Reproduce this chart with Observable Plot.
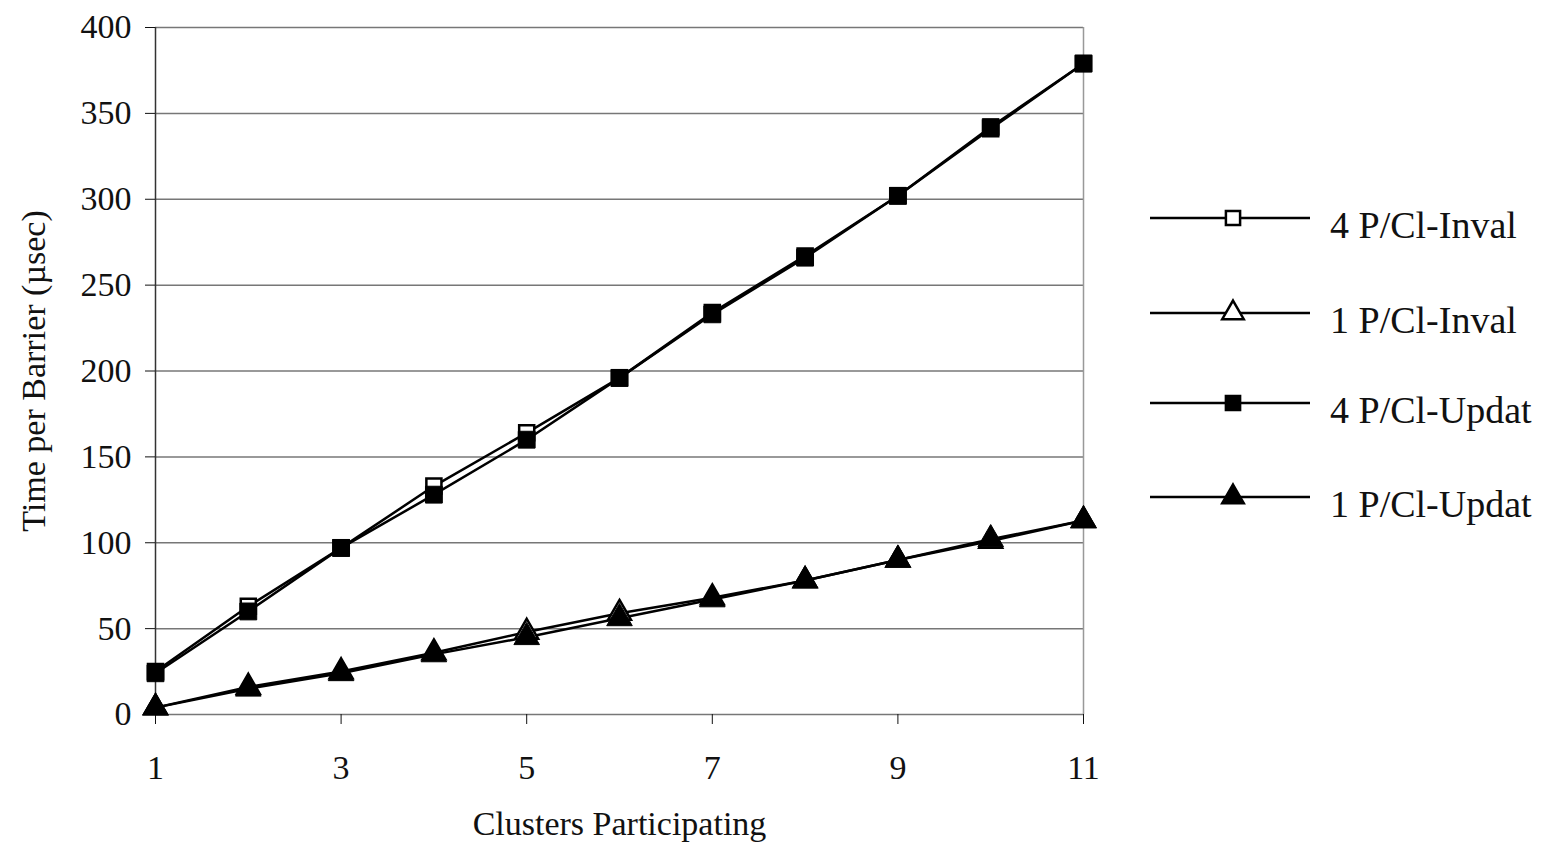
<!DOCTYPE html>
<html>
<head>
<meta charset="utf-8">
<script src="https://cdn.jsdelivr.net/npm/d3@7"></script>
<script src="https://cdn.jsdelivr.net/npm/@observablehq/plot@0.6"></script>
<style>
  html, body { margin: 0; padding: 0; background: #fff; }
  #wrap { position: relative; width: 1559px; height: 855px; font-family: "Liberation Serif", "DejaVu Serif", serif; }
  #legend { position: absolute; left: 1150px; top: 0; }
  .item { position: absolute; left: 0; width: 420px; height: 50px; }
  .item svg { position: absolute; left: 0; top: 0; }
  .item span { position: absolute; left: 180px; top: 10px; font-size: 38px; color: #111; white-space: nowrap; }
</style>
</head>
<body>
<div id="wrap">
  <div id="chart"></div>
  <div id="legend"></div>
</div>
<script>
const clusters = [1, 2, 3, 4, 5, 6, 7, 8, 9, 10, 11];
const inval4 = [25, 63, 97, 133, 164, 196, 234, 267, 302, 341, 379];
const inval1 = [4, 16, 25, 36, 48, 59, 68, 78, 90, 101, 113];
const updat4 = [24, 60, 97, 128, 160, 196, 233, 266, 302, 342, 379];
const updat1 = [4, 15, 24, 35, 45, 56, 67, 78, 90, 102, 113];
const seriesNames = ["4 P/Cl-Inval", "1 P/Cl-Inval", "4 P/Cl-Updat", "1 P/Cl-Updat"];
const xTicks = [1, 3, 5, 7, 9, 11];
const yTicks = [0, 50, 100, 150, 200, 250, 300, 350, 400];

const seriesValues = [inval4, inval1, updat4, updat1];
const symbols = ["square", "triangle", "square", "triangle"];
const fills = ["white", "white", "black", "black"];
const rows = [];
seriesNames.forEach((name, i) => {
  clusters.forEach((c, j) => rows.push({series: name, x: c, y: seriesValues[i][j], symbol: symbols[i], fill: fills[i]}));
});
const openRows = rows.filter(d => d.fill === "white");
const filledRows = rows.filter(d => d.fill === "black");

const chart = Plot.plot({
  width: 1559,
  height: 855,
  marginLeft: 155,
  marginRight: 476,
  marginTop: 27,
  marginBottom: 141,
  style: {fontFamily: "Liberation Serif, DejaVu Serif, serif", fontSize: "34px", color: "#111", background: "white"},
  x: {domain: [1, 11]},
  y: {domain: [0, 400]},
  marks: [
    Plot.ruleY(yTicks, {stroke: "#777", strokeWidth: 1.5}),
    Plot.ruleX([11], {stroke: "#999", strokeWidth: 1.5}),
    Plot.ruleX([1], {stroke: "#333", strokeWidth: 1.5}),
    Plot.axisX({ticks: xTicks, tickSize: 10, tickPadding: 30, tickFormat: d => String(d), label: "Clusters Participating", labelAnchor: "center", labelArrow: "none", labelOffset: 120}),
    Plot.axisY({ticks: yTicks, tickSize: 10, tickPadding: 14, label: "Time per Barrier (µsec)", labelAnchor: "center", labelArrow: "none", labelOffset: 135}),
    Plot.line(rows, {x: "x", y: "y", z: "series", stroke: "black", strokeWidth: 2.5}),
    Plot.dot(openRows, {x: "x", y: "y", symbol: "symbol", fill: "white", stroke: "black", strokeWidth: 2.5, r: 8.5}),
    Plot.dot(filledRows, {x: "x", y: "y", symbol: "symbol", fill: "black", stroke: "black", strokeWidth: 1, r: 9.5})
  ]
});
document.getElementById("chart").appendChild(chart);

// Legend
const legend = document.getElementById("legend");
const legendY = [193, 288, 378, 472];
seriesNames.forEach((name, i) => {
  const item = document.createElement("div");
  item.className = "item";
  item.style.top = legendY[i] + "px";
  const sym = d3.symbol(symbols[i] === "square" ? d3.symbolSquare : d3.symbolTriangle, Math.PI * 8 * 8)();
  item.innerHTML = `<svg width="170" height="50"><line x1="0" x2="160" y1="25" y2="25" stroke="black" stroke-width="2.5"/>` +
    `<path d="${sym}" transform="translate(83,25)" fill="${fills[i]}" stroke="black" stroke-width="2.5"/></svg>` +
    `<span>${name}</span>`;
  legend.appendChild(item);
});
</script>
</body>
</html>
